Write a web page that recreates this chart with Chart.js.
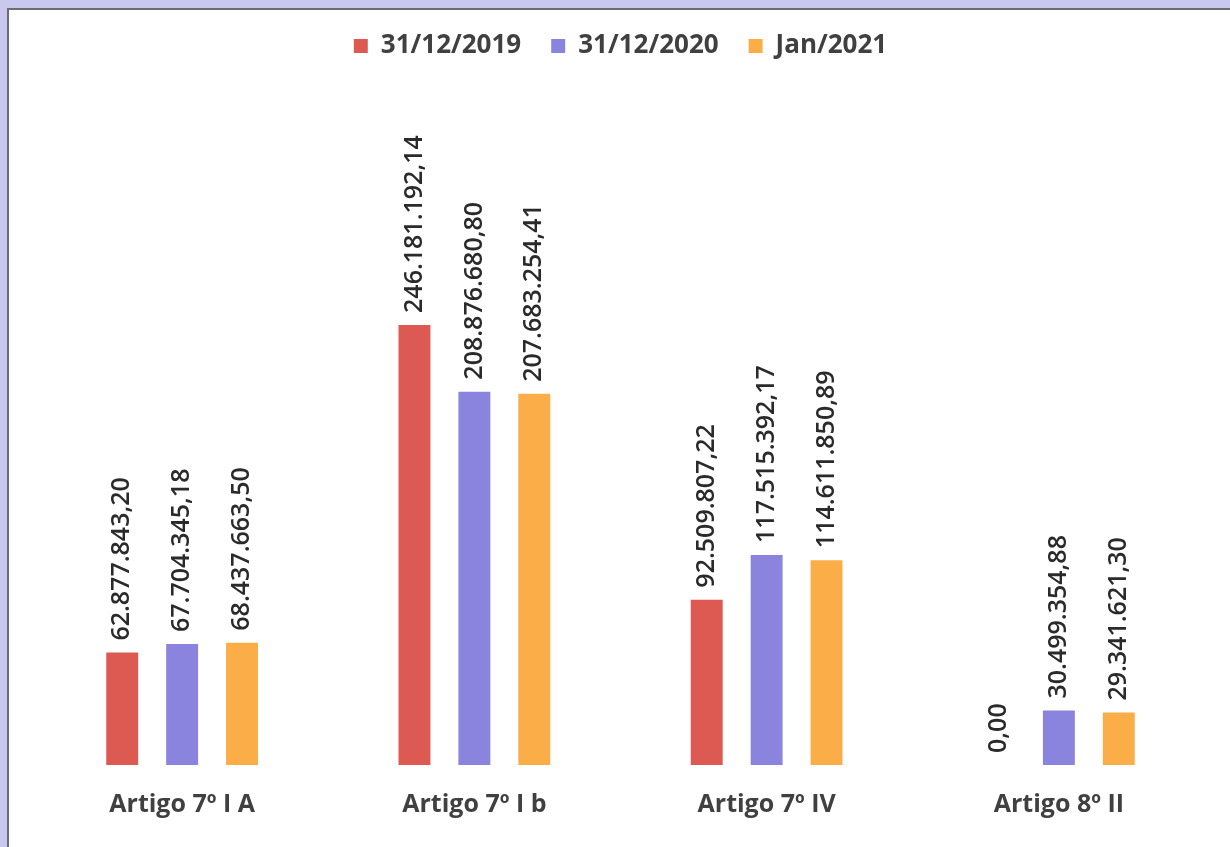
<!doctype html>
<html>

<head>
    <title>Artigos</title>
    <script src="https://cdn.jsdelivr.net/npm/chart.js@4"></script>
    <style>
    body {
        margin: 0;
        background: #cbc8ef;
        overflow: hidden;
    }
    #frame {
        position: absolute;
        left: 7px;
        top: 8px;
        width: 1221px;
        height: 837px;
        border-left: 2px solid #6b6b74;
        border-top: 2px solid #6b6b74;
        background: #fff;
    }
    </style>
</head>

<body>
    <div id="frame">
        <canvas id="canvas" width="1221" height="837"></canvas>
    </div>
    <script>
    var categories = ["Artigo 7º I A", "Artigo 7º I b", "Artigo 7º IV", "Artigo 8º II"];
    var seriesNames = ["31/12/2019", "31/12/2020", "Jan/2021"];
    var values2019 = [62877843.20, 246181192.14, 92509807.22, 0];
    var values2020 = [67704345.18, 208876680.80, 117515392.17, 30499354.88];
    var valuesJan2021 = [68437663.50, 207683254.41, 114611850.89, 29341621.30];
    var colors = ['#dc5a52', '#8b84de', '#fbae48'];

    // numero no formato brasileiro: 246.181.192,14
    var fmt = function(v) {
        var parts = v.toFixed(2).split('.');
        return parts[0].replace(/\B(?=(\d{3})+(?!\d))/g, '.') + ',' + parts[1];
    };

    // rotulos verticais acima das barras
    var valueLabels = {
        id: 'valueLabels',
        afterDatasetsDraw: function(chart) {
            var ctx = chart.ctx;
            ctx.save();
            ctx.font = '600 25px "Open Sans"';
            ctx.fillStyle = '#2a2a2a';
            ctx.textAlign = 'left';
            ctx.textBaseline = 'middle';
            chart.data.datasets.forEach(function(ds, i) {
                chart.getDatasetMeta(i).data.forEach(function(bar, j) {
                    ctx.save();
                    ctx.translate(bar.x, bar.y - 12);
                    ctx.rotate(-Math.PI / 2);
                    ctx.fillText(fmt(ds.data[j]), 0, 0);
                    ctx.restore();
                });
            });
            ctx.restore();
        }
    };

    var legendSpace = {
        id: 'legendSpace',
        beforeInit: function(chart) {
            var fit = chart.legend.fit;
            chart.legend.fit = function() {
                fit.bind(chart.legend)();
                this.height += 40;
            };
        }
    };

    var config = {
        type: 'bar',
        data: {
            labels: categories,
            datasets: [{
                label: seriesNames[0],
                backgroundColor: colors[0],
                data: values2019
            }, {
                label: seriesNames[1],
                backgroundColor: colors[1],
                data: values2020
            }, {
                label: seriesNames[2],
                backgroundColor: colors[2],
                data: valuesJan2021
            }]
        },
        options: {
            responsive: false,
            animation: false,
            categoryPercentage: 0.615,
            barPercentage: 0.533,
            layout: {
                padding: { left: 27, right: 25, top: -7, bottom: 10 }
            },
            plugins: {
                tooltip: { enabled: false },
                legend: {
                    position: 'top',
                    labels: {
                        boxWidth: 14,
                        boxHeight: 14,
                        padding: 30,
                        color: '#404040',
                        font: { family: 'Open Sans', size: 26, weight: 'bold' }
                    }
                }
            },
            scales: {
                x: {
                    grid: { display: false },
                    border: { display: false },
                    ticks: {
                        color: '#404040',
                        padding: 17,
                        font: { family: 'Open Sans', size: 25, weight: 'bold' }
                    }
                },
                y: {
                    display: false,
                    min: 0,
                    max: 367000000
                }
            }
        },
        plugins: [valueLabels, legendSpace]
    };

    window.onload = function() {
        window.myBar = new Chart(document.getElementById("canvas"), config);
    };
    </script>
</body>

</html>
